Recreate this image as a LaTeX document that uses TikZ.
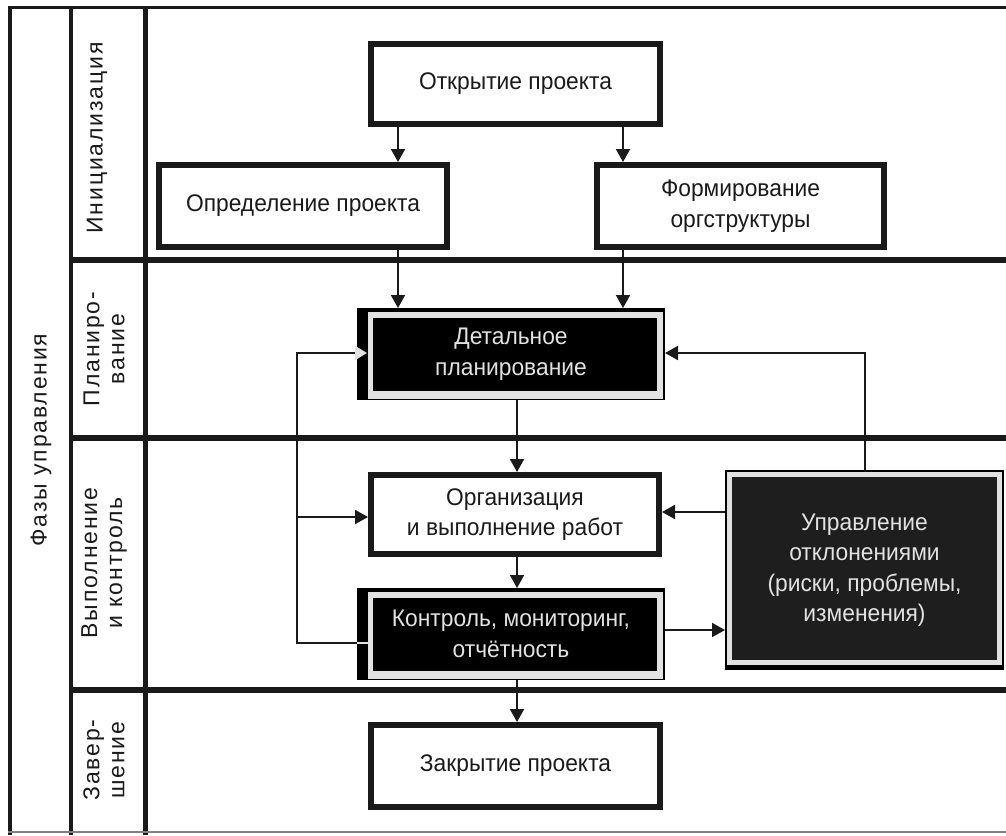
\documentclass[tikz,border=0pt]{standalone}
\usepackage{fontspec}
\setmainfont{Liberation Sans}
\usetikzlibrary{arrows.meta}
\definecolor{lgray}{HTML}{E2E2E2}
\definecolor{dfill}{HTML}{1E1E1E}
\definecolor{ink}{HTML}{1A1A1A}
\begin{document}
\begin{tikzpicture}[x=1pt,y=-1pt,
  txt/.style={font={\fontsize{24}{30.5}\selectfont\addfontfeature{FakeStretch=0.95}}, align=center},
  wbox/.style={txt, draw=ink, line width=6pt, fill=white, inner sep=0pt, outer sep=3pt, text=ink},
  bbox/.style={txt, fill=black, text=lgray, inner sep=0pt, outer sep=0pt,
    path picture={
      \fill[lgray] ([shift={(11pt,-4pt)}]path picture bounding box.north west) rectangle ([shift={(-2pt,1pt)}]path picture bounding box.south east);
      \fill[black] ([shift={(16pt,-10pt)}]path picture bounding box.north west) rectangle ([shift={(-8pt,9pt)}]path picture bounding box.south east);
    }},
  dbox/.style={txt, fill=black, text=lgray, inner sep=0pt, outer sep=0pt,
    path picture={
      \fill[lgray] ([shift={(2pt,-2pt)}]path picture bounding box.north west) rectangle ([shift={(-2pt,5pt)}]path picture bounding box.south east);
      \fill[dfill] ([shift={(7pt,-7pt)}]path picture bounding box.north west) rectangle ([shift={(-7pt,10pt)}]path picture bounding box.south east);
    }},
  lbl/.style={font={\fontsize{23}{25}\selectfont\addfontfeature{LetterSpace=8}}, align=center, text=ink, inner sep=0pt},
  conn/.style={draw=ink, line width=2pt},
  arr/.style={conn, -{Triangle[length=13pt,width=14pt]}},
  warr/.style={conn, -{Triangle[length=12pt,width=14pt,fill=lgray,color=lgray]}},
  frameline/.style={draw=ink}
]
\useasboundingbox (0,0) rectangle (1006,835);
\fill[white] (0,0) rectangle (1006,835);

% frame
\draw[frameline, line width=3pt] (8,7) -- (1006,7);
\draw[frameline, line width=4pt] (10,5.5) -- (10,835);
\draw[frameline, line width=4pt] (71,5.5) -- (71,835);
\draw[frameline, line width=5pt] (145.5,5.5) -- (145.5,835);
\draw[frameline, line width=6pt] (69,260) -- (1006,260);
\draw[frameline, line width=6pt] (69,438) -- (1006,438);
\draw[frameline, line width=6pt] (69,690) -- (1006,690);
\draw[gray, line width=1.5pt] (8,832) -- (1006,832);

% labels
\node[lbl, rotate=90] (phases) at (41,440) {Фазы управления};
\node[lbl, rotate=90] (init) at (97,138) {Инициализация};
\node[lbl, rotate=90] (plan) at (104,349) {Планиро-\\вание};
\node[lbl, rotate=90] (exec) at (104,563) {Выполнение\\и контроль};
\node[lbl, rotate=90] (fin) at (104,760) {Завер-\\шение};

% boxes
\node[wbox, minimum width=289pt, minimum height=80pt] (open) at (515.5,84) {Открытие проекта};
\node[wbox, minimum width=288pt, minimum height=82pt] (def) at (303,206) {Определение проекта};
\node[wbox, minimum width=287pt, minimum height=82pt] (form) at (740.5,206) {Формирование\\оргструктуры};
\node[bbox, minimum width=308pt, minimum height=92pt] (det) at (511,354) {Детальное\\планирование};
\node[wbox, minimum width=288pt, minimum height=79pt] (org) at (515,514.5) {Организация\\и выполнение работ};
\node[bbox, minimum width=308pt, minimum height=92pt] (ctl) at (511,634) {Контроль, мониторинг,\\отчётность};
\node[dbox, minimum width=279pt, minimum height=200pt] (dev) at (864.5,570) {Управление\\отклонениями\\(риски, проблемы,\\изменения)};
\node[wbox, minimum width=289pt, minimum height=82pt] (close) at (515.5,766) {Закрытие проекта};

% alignment coordinates
\coordinate (xL) at (398,0);
\coordinate (xR) at (623,0);
\coordinate (xC) at (517,0);
\coordinate (xLoop) at (297,0);
\coordinate (xFb) at (865,0);
\coordinate (xIn) at (368,0);
\coordinate (yDet) at (0,353);
\coordinate (yOrgL) at (0,517);
\coordinate (yOrgR) at (0,512);
\coordinate (yKr) at (0,630);
\coordinate (yKl) at (0,643);

% connectors
\draw[arr] (xL |- open.south) -- (xL |- def.north);
\draw[arr] (xR |- open.south) -- (xR |- form.north);
\draw[arr] (xL |- def.south) -- (xL |- det.north);
\draw[arr] (xR |- form.south) -- (xR |- det.north);
\draw[arr] (xC |- det.south) -- (xC |- org.north);
\draw[arr] (xC |- org.south) -- (xC |- ctl.north);
\draw[arr] (xC |- ctl.south) -- (xC |- close.north);
\draw[warr, shorten >=-10pt] (ctl.west |- yKl) -| (xLoop |- yDet) -- (det.west |- yDet);
\draw[lgray, line width=2pt] (ctl.west |- yKl) -- (xIn |- yKl);
\draw[arr] (xLoop |- yOrgL) -- (org.west |- yOrgL);
\draw[arr] (ctl.east |- yKr) -- (dev.west |- yKr);
\draw[arr] (dev.west |- yOrgR) -- (org.east |- yOrgR);
\draw[arr] (xFb |- dev.north) |- (det.east |- yDet);
\end{tikzpicture}
\end{document}
